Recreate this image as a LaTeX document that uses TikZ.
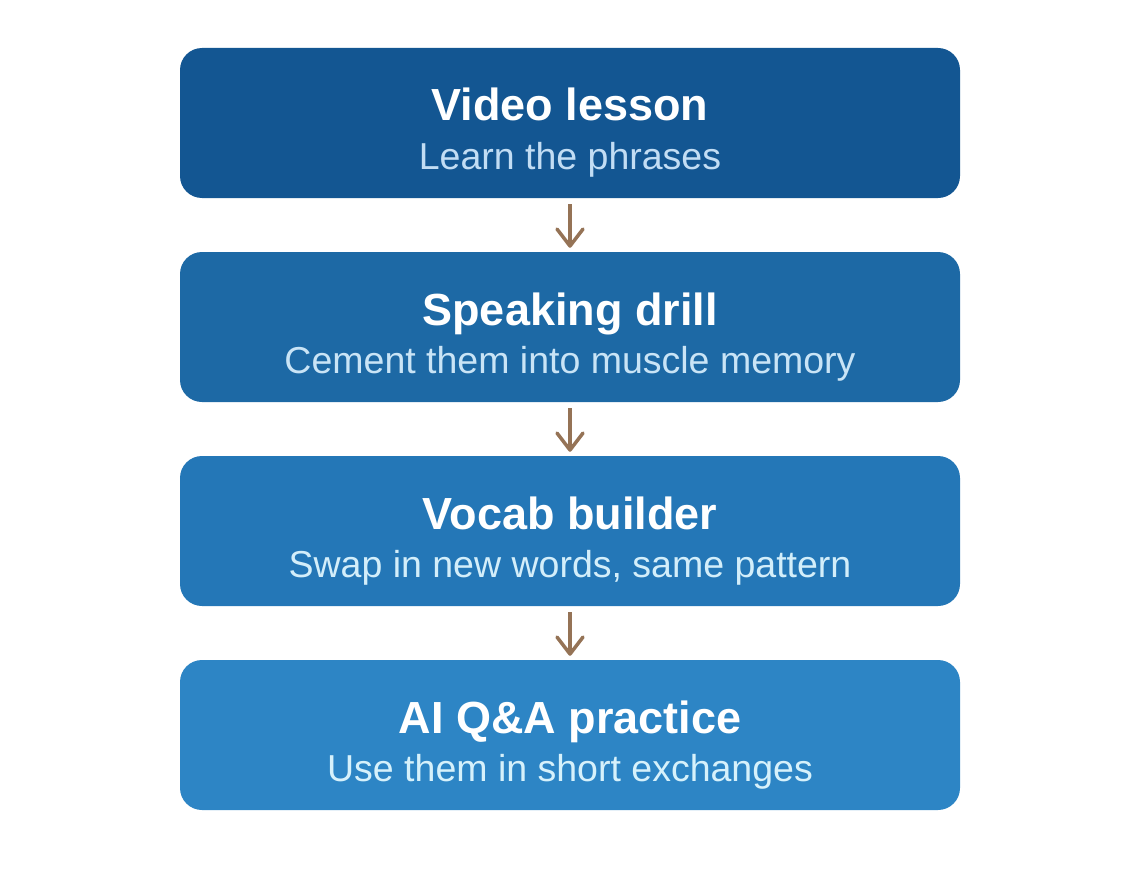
\documentclass[tikz,border=0pt]{standalone}
\usepackage{fontspec}
\setmainfont{Liberation Sans}
\usetikzlibrary{arrows.meta}
\definecolor{boxA}{HTML}{135692}
\definecolor{boxB}{HTML}{1D69A5}
\definecolor{boxC}{HTML}{2477B7}
\definecolor{boxD}{HTML}{2D85C5}
\definecolor{subA}{HTML}{C2DDF4}
\definecolor{subB}{HTML}{C9E4F6}
\definecolor{subC}{HTML}{D3EEFA}
\definecolor{subD}{HTML}{D6F1FB}
\definecolor{arrowcol}{HTML}{957356}
\tikzset{
  stepbox/.style={rounded corners=22pt, minimum width=780pt, minimum height=150pt, inner sep=0pt},
  title/.style={anchor=base, text=white, font=\fontsize{45}{52}\selectfont\bfseries},
  sub/.style={anchor=base, font=\fontsize{37.5}{44}\selectfont},
  flow/.style={arrowcol, line width=3.5pt, shorten <=6pt, shorten >=4pt,
    -{Straight Barb[length=17pt, width=26pt, line width=3.5pt, round]}}
}
\begin{document}
\begin{tikzpicture}[x=1pt, y=-1pt]
\useasboundingbox (0,0) rectangle (1140,888);

	\node [stepbox, fill=boxA] (video) at (570,123) {};
	\node [stepbox, fill=boxB] (speak) at (570,327) {};
	\node [stepbox, fill=boxC] (vocab) at (570,531) {};
	\node [stepbox, fill=boxD] (ai) at (570,735) {};

	\node [title] (videoT) at (570,121) {Video lesson};
	\node [sub, text=subA] (videoS) at (570,169) {Learn the phrases};

	\node [title] (speakT) at (570,325) {Speaking drill};
	\node [sub, text=subB] (speakS) at (570,373) {Cement them into muscle memory};

	\node [title] (vocabT) at (570,529) {Vocab builder};
	\node [sub, text=subC] (vocabS) at (570,577) {Swap in new words, same pattern};

	\node [title] (aiT) at (570,733) {AI Q\&A practice};
	\node [sub, text=subD] (aiS) at (570,781) {Use them in short exchanges};

	\draw [flow] (video.south) -- (speak.north);
	\draw [flow] (speak.south) -- (vocab.north);
	\draw [flow] (vocab.south) -- (ai.north);
\end{tikzpicture}
\end{document}
